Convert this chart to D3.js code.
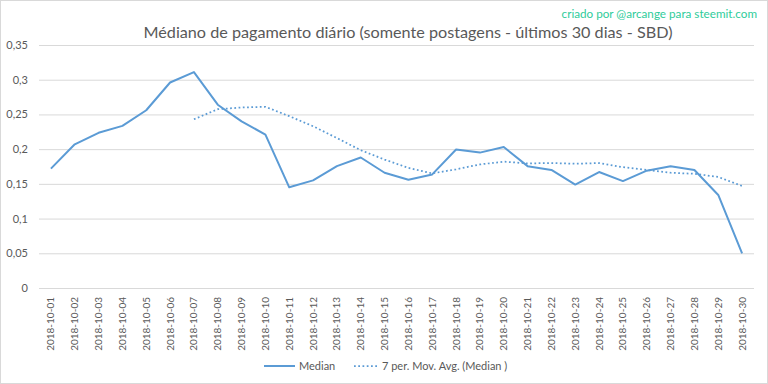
<!DOCTYPE html>
<html><head><meta charset="utf-8">
<script src="https://cdn.jsdelivr.net/npm/d3@7"></script>
<style>body{margin:0;background:#fff;}svg{display:block;}</style>
</head><body>
<script>
const dates = ["2018-10-01","2018-10-02","2018-10-03","2018-10-04","2018-10-05","2018-10-06","2018-10-07","2018-10-08","2018-10-09","2018-10-10","2018-10-11","2018-10-12","2018-10-13","2018-10-14","2018-10-15","2018-10-16","2018-10-17","2018-10-18","2018-10-19","2018-10-20","2018-10-21","2018-10-22","2018-10-23","2018-10-24","2018-10-25","2018-10-26","2018-10-27","2018-10-28","2018-10-29","2018-10-30"];
const median = [0.172,0.207,0.2235,0.2335,0.256,0.296,0.311,0.264,0.240,0.221,0.145,0.155,0.1755,0.188,0.166,0.156,0.1636,0.1995,0.195,0.203,0.1755,0.170,0.149,0.167,0.154,0.169,0.1755,0.170,0.134,0.050];
const movAvg = [null,null,null,null,null,null,0.243,0.2575,0.260,0.261,0.2475,0.233,0.216,0.1985,0.185,0.173,0.165,0.171,0.178,0.182,0.1795,0.180,0.179,0.180,0.174,0.170,0.166,0.1645,0.160,0.147];
const yTicks = [0,0.05,0.1,0.15,0.2,0.25,0.3,0.35];
const yTickLabels = ["0","0,05","0,1","0,15","0,2","0,25","0,3","0,35"];
const title = "Médiano de pagamento diário (somente postagens - últimos 30 dias - SBD)";
const credit = "criado por @arcange para steemit.com";
const legendLabels = ["Median","7 per. Mov. Avg. (Median )"];

const W = 768, H = 384;
const m = {left:39, right:14, top:45, bottom:96};
const svg = d3.select("body").append("svg").attr("width",W).attr("height",H);
const font = "Lato, 'Open Sans', sans-serif";
const blue = "#5b9bd5";
const grey = "#595959";

svg.append("rect").attr("x",0.5).attr("y",0.5).attr("width",W-1).attr("height",H-1)
  .attr("fill","#fff").attr("stroke","#d9d9d9");

const x = d3.scaleBand().domain(dates).range([m.left, W-m.right]);
const y = d3.scaleLinear().domain([0,0.35]).range([H-m.bottom, m.top]);

// gridlines
const yAxis = d3.axisLeft(y).tickValues(yTicks).tickFormat((d,i)=>yTickLabels[i]).tickSize(-(W-m.right-m.left)).tickPadding(11);
const gy = svg.append("g").attr("transform",`translate(${m.left},0)`).call(yAxis);
gy.select(".domain").remove();
gy.selectAll(".tick line").attr("stroke","#d9d9d9").attr("stroke-width",1);
gy.selectAll(".tick text").attr("fill",grey).style("font-family",font).style("font-size","11px");

// x axis
const xAxis = d3.axisBottom(x).tickSize(0).tickPadding(0);
const gx = svg.append("g").attr("transform",`translate(0,${H-m.bottom})`).call(xAxis);
gx.select(".domain").remove();
gx.selectAll(".tick text").attr("fill",grey).style("font-family",font).style("font-size","10px")
  .attr("transform","rotate(-90)").attr("text-anchor","end").attr("x",-9).attr("y",0).attr("dy","0.35em");

const cx = d => x(d) + x.bandwidth()/2;

const lineMed = d3.line().x((d,i)=>cx(dates[i])).y(d=>y(d));
svg.append("path").datum(median).attr("d",lineMed).attr("fill","none")
  .attr("stroke",blue).attr("stroke-width",2).attr("stroke-linejoin","round");

const lineMA = d3.line().defined(d=>d!==null).x((d,i)=>cx(dates[i])).y(d=>y(d));
svg.append("path").datum(movAvg).attr("d",lineMA).attr("fill","none")
  .attr("stroke",blue).attr("stroke-width",1.75).attr("stroke-dasharray","1.75 2.5");

// title
svg.append("text").attr("x",408).attr("y",38).attr("text-anchor","middle")
  .attr("fill",grey).style("font-family",font).style("font-size","16.2px").text(title);
svg.append("text").attr("x",757).attr("y",18).attr("text-anchor","end")
  .attr("fill","#2ecc9a").style("font-family",font).style("font-size","11.7px").text(credit);

// legend
const ly = 366;
svg.append("line").attr("x1",264).attr("x2",295).attr("y1",ly).attr("y2",ly).attr("stroke",blue).attr("stroke-width",2);
svg.append("text").attr("x",299).attr("y",ly).attr("dy","0.35em").attr("fill",grey)
  .style("font-family",font).style("font-size","11px").text(legendLabels[0]);
svg.append("line").attr("x1",354).attr("x2",378).attr("y1",ly).attr("y2",ly).attr("stroke",blue).attr("stroke-width",1.75).attr("stroke-dasharray","1.75 2.5");
svg.append("text").attr("x",382).attr("y",ly).attr("dy","0.35em").attr("fill",grey)
  .style("font-family",font).style("font-size","11px").text(legendLabels[1]);
</script>
</body></html>
